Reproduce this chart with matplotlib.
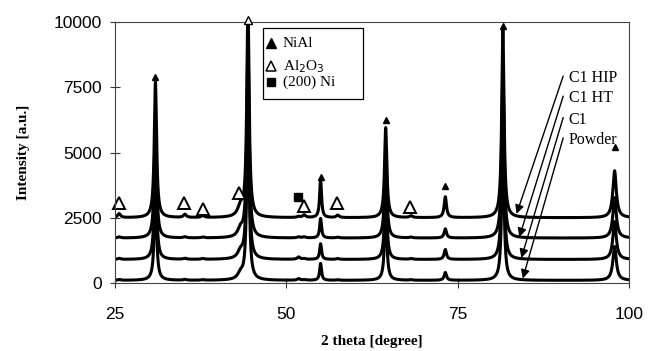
import numpy as np
import matplotlib
matplotlib.use("Agg")
import matplotlib.pyplot as plt
from matplotlib.patches import Rectangle

# ---- pattern data -------------------------------------------------------
samples = ["C1 HIP", "C1 HT", "C1", "Powder"]
baselines = [2500, 1720, 900, 100]

# NiAl reflections (2 theta, half width) and their heights above background
nial_pos = [30.9, 44.4, 55.0, 64.5, 73.2, 81.6, 97.9]
nial_hw = [0.2, 0.2, 0.16, 0.2, 0.2, 0.2, 0.3]
nial_height = {
    "C1 HIP": [5200, 8200, 1500, 3450, 800, 7200, 1800],
    "C1 HT":  [4500, 7500, 750, 3300, 350, 6600, 1550],
    "C1":     [4000, 7000, 600, 3000, 380, 6000, 1450],
    "Powder": [3500, 6800, 650, 2800, 300, 5600, 1300],
}

# weak Al2O3 reflections and the Ni (200) bump
minor_pos = [25.6, 35.2, 37.8, 43.3, 51.8, 52.6, 57.5, 68.2]
minor_hw = [0.25, 0.25, 0.25, 0.45, 0.25, 0.25, 0.25, 0.25]
minor_height = {
    "C1 HIP": [150, 120, 80, 380, 40, 100, 90, 70],
    "C1 HT":  [40, 40, 30, 300, 40, 40, 30, 30],
    "C1":     [40, 40, 30, 260, 90, 30, 30, 30],
    "Powder": [30, 30, 20, 220, 60, 20, 20, 20],
}

# phase markers (2 theta, intensity)
nial_mark_x = [30.9, 55.0, 64.5, 73.2, 81.6, 97.9]
nial_mark_y = [7900, 4050, 6250, 3700, 9850, 5200]
top_mark_x, top_mark_y = 44.4, 10080
al2o3_mark_x = [25.6, 35.1, 37.8, 43.1, 52.6, 57.4, 68.0]
al2o3_mark_y = [3060, 3080, 2850, 3450, 2950, 3080, 2900]
ni_mark_x, ni_mark_y = [51.7], [3290]

# curve labels and arrow targets
label_x = 91.2
label_y = [7850, 7080, 6260, 5480]
arrow_start_x = 90.4
arrow_tip_x = [83.6, 84.0, 84.3, 84.5]
arrow_tip_y = [2650, 1760, 960, 170]


def lorentz_sum(x, pos, hw, h):
    out = np.zeros_like(x)
    for p, w, a in zip(pos, hw, h):
        out += a * w**2 / ((x - p)**2 + w**2)
    return out


two_theta = np.arange(25.0, 100.0001, 0.01)

fig = plt.figure(figsize=(6.56, 3.51), dpi=100)
ax = fig.add_axes([0.1753, 0.1937, 0.7835, 0.7436])

for name, base in zip(samples, baselines):
    y = (base + lorentz_sum(two_theta, nial_pos, nial_hw, nial_height[name])
         + lorentz_sum(two_theta, minor_pos, minor_hw, minor_height[name]))
    ax.plot(two_theta, y, color="black", lw=2.2, solid_joinstyle="round")

ax.plot(nial_mark_x, nial_mark_y, "^", color="black", ms=5, clip_on=False)
ax.plot([top_mark_x], [top_mark_y], "^", mfc="white", mec="black", ms=6,
        mew=1.0, clip_on=False, zorder=5)
ax.plot(al2o3_mark_x, al2o3_mark_y, "^", mfc="white", mec="black", ms=8,
        mew=1.4, clip_on=False)
ax.plot(ni_mark_x, ni_mark_y, "s", color="black", ms=5.5)

ax.set_xlim(25, 100)
ax.set_ylim(0, 10000)
ax.set_xticks([25, 50, 75, 100])
ax.set_yticks([0, 2500, 5000, 7500, 10000])

for lab in ax.get_xticklabels() + ax.get_yticklabels():
    lab.set_fontfamily("Liberation Sans")
    lab.set_fontsize(12.5)
ax.tick_params(axis="x", direction="inout", length=7, width=0.8, pad=14,
               color="#333333")
ax.tick_params(axis="y", direction="inout", length=7, width=0.8, pad=6,
               color="#333333")
for sp in ax.spines.values():
    sp.set_linewidth(0.8)
    sp.set_color("#444444")

label_font = dict(family="Liberation Serif", size=11, weight="bold")
ax.set_xlabel("2 theta [degree]", fontdict=label_font, labelpad=9)
ax.set_ylabel("Intensity [a.u.]", fontdict=label_font, labelpad=17)

# legend box
serif = dict(family="Liberation Serif", size=11)
ax.add_patch(Rectangle((46.6, 7050), 14.6, 2720, facecolor="white",
                       edgecolor="black", lw=0.9, zorder=6))
ax.plot([47.8], [9180], "^", color="black", ms=7, zorder=7)
ax.text(49.5, 9180, "NiAl", va="center", zorder=7, **serif)
ax.plot([47.8], [8300], "^", mfc="white", mec="black", ms=7, mew=1.1, zorder=7)
ax.text(49.5, 8300, "Al$_2$O$_3$", va="center", zorder=7, **serif)
ax.plot([47.8], [7700], "s", color="black", ms=6, zorder=7)
ax.text(49.5, 7700, "(200) Ni", va="center", zorder=7, **serif)

for name, ly, tx, ty in zip(samples, label_y, arrow_tip_x, arrow_tip_y):
    ax.text(label_x, ly, name, va="center", ha="left",
            family="Liberation Serif", size=11.5)
    ax.annotate("", xy=(tx, ty), xytext=(arrow_start_x, ly + 80),
                arrowprops=dict(arrowstyle="-|>", color="black", lw=1.0,
                                mutation_scale=13, shrinkA=0, shrinkB=0))

fig.savefig("out.png", dpi=100)
